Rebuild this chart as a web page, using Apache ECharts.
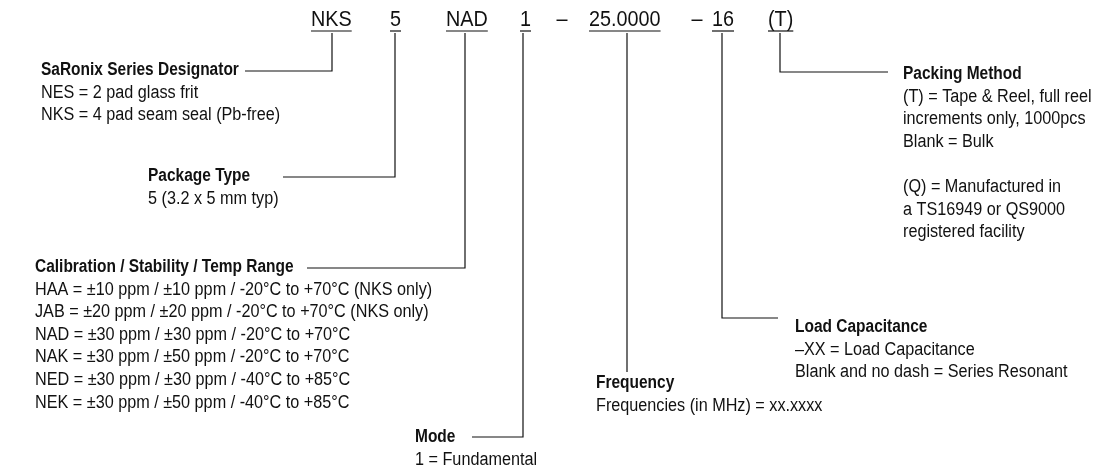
<!DOCTYPE html>
<html><head><meta charset="utf-8">
<script src="https://cdn.jsdelivr.net/npm/echarts@6/dist/echarts.min.js"></script>
<style>html,body{margin:0;padding:0;background:#fff}#c{width:1107px;height:468px}</style>
</head><body><div id="c"></div>
<script>
// ---------- content ----------
const segCodes = ['NKS', '5', 'NAD', '1', '25.0000', '16', '(T)'];
const separators = ['–', '–'];
const segTitles = [
  'SaRonix Series Designator',
  'Package Type',
  'Calibration / Stability / Temp Range',
  'Mode',
  'Frequency',
  'Load Capacitance',
  'Packing Method'
];
const descSeries = ['NES = 2 pad glass frit', 'NKS = 4 pad seam seal (Pb-free)'];
const descPackage = ['5 (3.2 x 5 mm typ)'];
const descCalibration = [
  'HAA = ±10 ppm / ±10 ppm / -20°C to +70°C (NKS only)',
  'JAB = ±20 ppm / ±20 ppm / -20°C to +70°C (NKS only)',
  'NAD = ±30 ppm / ±30 ppm / -20°C to +70°C',
  'NAK = ±30 ppm / ±50 ppm / -20°C to +70°C',
  'NED = ±30 ppm / ±30 ppm / -40°C to +85°C',
  'NEK = ±30 ppm / ±50 ppm / -40°C to +85°C'
];
const descMode = ['1 = Fundamental'];
const descFrequency = ['Frequencies (in MHz) = xx.xxxx'];
const descLoad = ['–XX = Load Capacitance', 'Blank and no dash = Series Resonant'];
const descPacking = [
  '(T) = Tape & Reel, full reel',
  'increments only, 1000pcs',
  'Blank = Bulk',
  '',
  '(Q) = Manufactured in',
  'a TS16949 or QS9000',
  'registered facility'
];
const segDescs = [descSeries, descPackage, descCalibration, descMode, descFrequency, descLoad, descPacking];

// ---------- layout (canvas coordinates on hidden axes) ----------
const FAMILY = '"Liberation Sans Narrow","Liberation Sans",Arial,sans-serif';
const CODE_FONT = '22px ' + FAMILY;
const TITLE_FONT = 'bold 18px ' + FAMILY;
const DESC_FONT = '18px ' + FAMILY;
const CODE_SX = 0.9;   // horizontal squeeze to mimic the condensed face
const TITLE_SX = 0.86;
const TEXT_SX = 0.9;
const INK = '#111111';
const codeLeft = [311, 390, 446, 520, 589, 712, 768];
const sepCenter = [562, 697];
const codeMidY = 20;
const underlineY = 31;
const tickTop = 33;
const tickX = [332, 395, 465, 523, 627, 722, 780];
const elbowY = [71, 177, 268, 437, 372, 318, 72];
const elbowEndX = [245, 283, 307, 472, null, 778, 888];
const titleX = [41, 148, 35, 415, 596, 795, 903];
const titleY = [70, 176, 267, 437, 383, 327, 74];
const lineGap = 22.6;

const measureCtx = document.createElement('canvas').getContext('2d');
function textWidth(t, font) { measureCtx.font = font; return measureCtx.measureText(t).width; }

function txt(p, text, font, align, sx) {
  return {
    type: 'text', x: p[0], y: p[1], scaleX: sx, scaleY: 1,
    style: { text: text, font: font, fill: INK, textAlign: align || 'left', align: align || 'left',
             textVerticalAlign: 'middle', verticalAlign: 'middle' }
  };
}

const chart = echarts.init(document.getElementById('c'), null, { renderer: 'canvas' });
chart.setOption({
  animation: false,
  backgroundColor: '#ffffff',
  grid: { left: 0, right: 0, top: 0, bottom: 0 },
  xAxis: { type: 'value', min: 0, max: 1107, show: false },
  yAxis: { type: 'value', min: 0, max: 468, inverse: true, show: false },
  series: [
    {
      type: 'custom',
      coordinateSystem: 'cartesian2d',
      data: segCodes.map((c, i) => [tickX[i], elbowY[i]]),
      renderItem: function (params, api) {
        const i = params.dataIndex;
        const children = [];
        // code text + underline
        const cp = api.coord([codeLeft[i], codeMidY]);
        children.push(txt(cp, segCodes[i], CODE_FONT, 'left', CODE_SX));
        const w = textWidth(segCodes[i], CODE_FONT) * CODE_SX;
        const u1 = api.coord([codeLeft[i], underlineY]);
        const u2 = api.coord([codeLeft[i] + w, underlineY]);
        children.push({ type: 'line', shape: { x1: u1[0], y1: u1[1], x2: u2[0], y2: u2[1] },
          style: { stroke: INK, lineWidth: 1.2 } });
        // connector
        const pts = [api.coord([tickX[i], tickTop]), api.coord([tickX[i], elbowY[i]])];
        if (elbowEndX[i] != null) pts.push(api.coord([elbowEndX[i], elbowY[i]]));
        children.push({ type: 'polyline', shape: { points: pts },
          style: { stroke: INK, lineWidth: 1.2, fill: null } });
        // title + descriptions
        children.push(txt(api.coord([titleX[i], titleY[i]]), segTitles[i], TITLE_FONT, 'left', TITLE_SX));
        segDescs[i].forEach((d, k) => {
          if (d) children.push(txt(api.coord([titleX[i], titleY[i] + lineGap * (k + 1)]), d, DESC_FONT, 'left', TEXT_SX));
        });
        return { type: 'group', children: children };
      }
    },
    {
      type: 'custom',
      coordinateSystem: 'cartesian2d',
      data: separators.map((s, i) => [sepCenter[i], codeMidY]),
      renderItem: function (params, api) {
        const p = api.coord([api.value(0), api.value(1)]);
        return txt(p, separators[params.dataIndex], CODE_FONT, 'center', CODE_SX);
      }
    }
  ]
});
</script>
</body></html>
